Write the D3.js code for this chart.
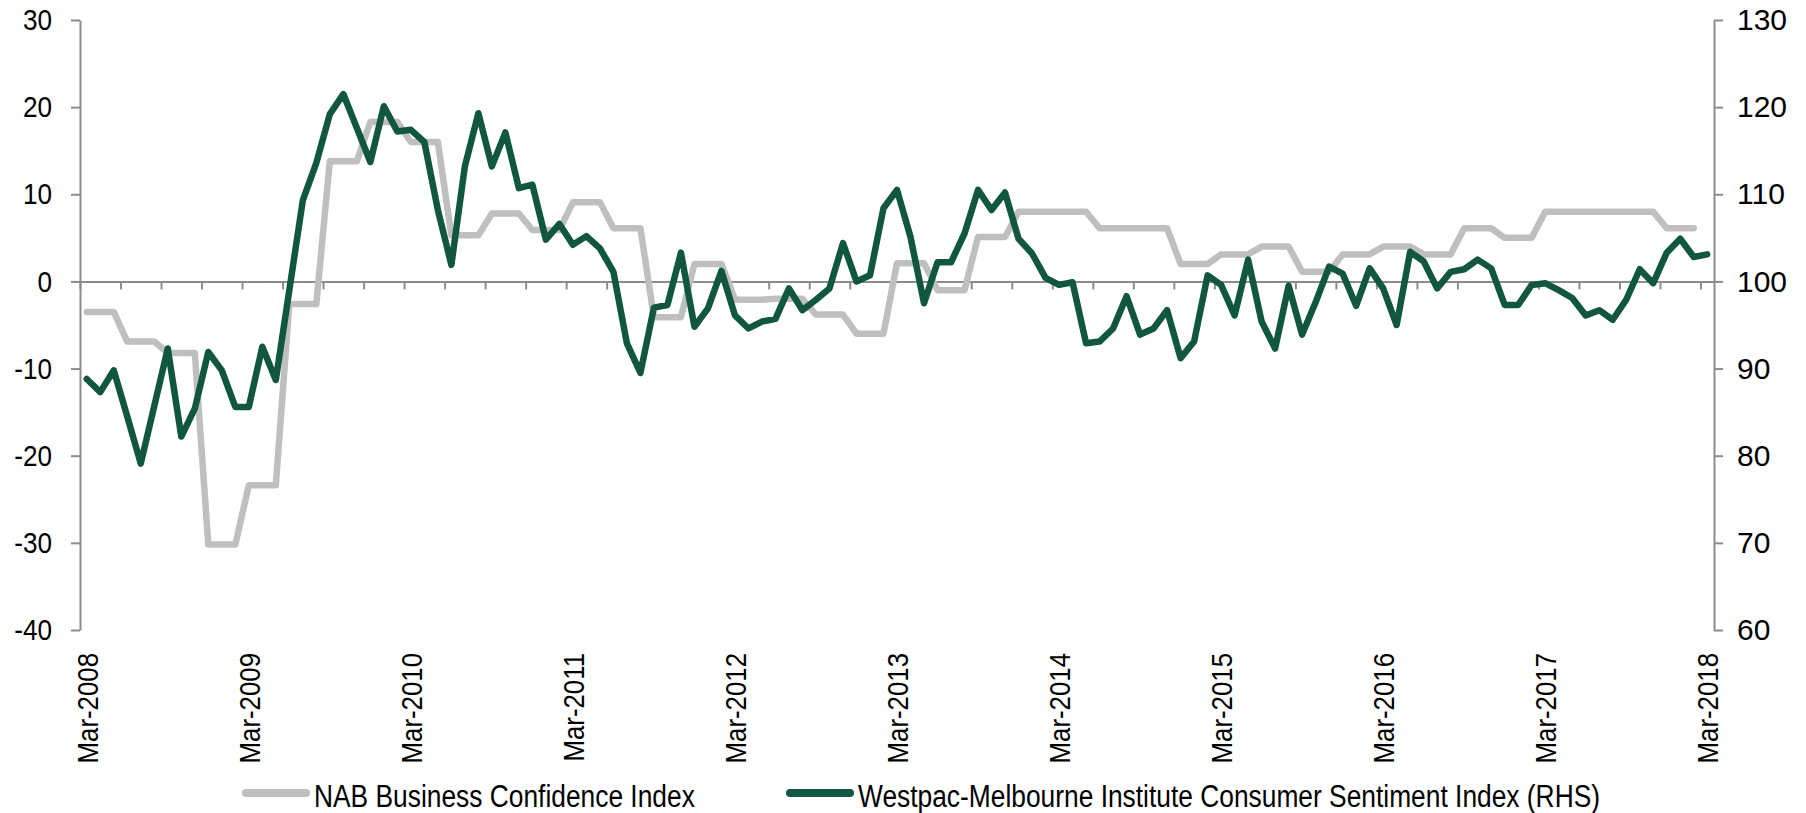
<!DOCTYPE html>
<html>
<head>
<meta charset="utf-8">
<script src="https://cdn.jsdelivr.net/npm/d3@7"></script>
<style>
body { margin: 0; background: #fff; }
text { font-family: "Liberation Sans", Arial, sans-serif; }
</style>
</head>
<body>
<svg id="chart" width="1806" height="813"></svg>
<script>
// monthly, Mar-2008 onwards
var xTickLabels = ["Mar-2008", "Mar-2009", "Mar-2010", "Mar-2011", "Mar-2012", "Mar-2013",
                   "Mar-2014", "Mar-2015", "Mar-2016", "Mar-2017", "Mar-2018"];
var leftTicks = [-40, -30, -20, -10, 0, 10, 20, 30];
var rightTicks = [60, 70, 80, 90, 100, 110, 120, 130];

// NAB Business Confidence (quarterly survey, shown monthly)
var nab = [
  -3.5, -3.5, -3.5, -6.9, -6.9, -6.9, -8.2, -8.2, -8.2, -30.2,
  -30.2, -30.2, -23.4, -23.4, -23.4, -2.6, -2.6, -2.6, 13.8, 13.8,
  13.8, 18.3, 18.3, 18.3, 16.0, 16.0, 16.0, 5.3, 5.3, 5.3,
  7.8, 7.8, 7.8, 5.9, 5.9, 5.9, 9.1, 9.1, 9.1, 6.1,
  6.1, 6.1, -4.1, -4.1, -4.1, 2.0, 2.0, 2.0, -2.1, -2.1,
  -2.1, -2.0, -2.0, -2.0, -3.8, -3.8, -3.8, -6.0, -6.0, -6.0,
  2.1, 2.1, 2.1, -1.0, -1.0, -1.0, 5.1, 5.1, 5.1, 8.0,
  8.0, 8.0, 8.0, 8.0, 8.0, 6.1, 6.1, 6.1, 6.1, 6.1,
  6.1, 2.0, 2.0, 2.0, 3.1, 3.1, 3.1, 4.0, 4.0, 4.0,
  1.1, 1.1, 1.1, 3.1, 3.1, 3.1, 4.0, 4.0, 4.0, 3.1,
  3.1, 3.1, 6.1, 6.1, 6.1, 5.0, 5.0, 5.0, 8.0, 8.0,
  8.0, 8.0, 8.0, 8.0, 8.0, 8.0, 8.0, 6.1, 6.1, 6.1
];

// Westpac-Melbourne Institute Consumer Sentiment (RHS)
var westpac = [
  88.8, 87.3, 89.8, 84.5, 79.1, 85.7, 92.3, 82.2, 85.4, 91.9,
  89.8, 85.6, 85.6, 92.5, 88.7, 99.0, 109.3, 113.6, 119.2, 121.5,
  117.6, 113.7, 120.1, 117.2, 117.4, 116.0, 108.2, 101.9, 113.2, 119.3,
  113.2, 117.1, 110.7, 111.1, 104.8, 106.6, 104.2, 105.2, 103.8, 101.1,
  92.9, 89.5, 97.0, 97.3, 103.3, 94.8, 96.9, 101.2, 96.1, 94.6,
  95.4, 95.7, 99.2, 96.7, 97.9, 99.2, 104.4, 100.0, 100.7, 108.4,
  110.5, 105.1, 97.5, 102.2, 102.2, 105.5, 110.5, 108.2, 110.2, 104.9,
  103.2, 100.4, 99.6, 99.9, 92.9, 93.1, 94.6, 98.3, 93.9, 94.6,
  96.7, 91.2, 93.1, 100.7, 99.6, 96.1, 102.5, 95.4, 92.3, 99.5,
  93.9, 97.6, 101.7, 100.9, 97.2, 101.5, 99.2, 95.0, 103.4, 102.3,
  99.2, 101.1, 101.4, 102.5, 101.5, 97.3, 97.3, 99.6, 99.8, 99.0,
  98.1, 96.1, 96.7, 95.6, 97.9, 101.4, 99.8, 103.3, 104.9, 102.8,
  103.1
];

var greyCol = "#bfbfbf",
    greenCol = "#11573e",
    axisCol = "#8c8c8c";

var svg = d3.select("#chart");

var x = d3.scaleLinear().domain([0, 121]).range([80, 1714]);
var yL = d3.scaleLinear().domain([-40, 30]).range([630, 20]);
var yR = d3.scaleLinear().domain([60, 130]).range([630, 20]);

//narrow the text the way the original renders it
var squeeze = function(sel, k){
    sel.each(function(){
        var w = this.getComputedTextLength();
        d3.select(this).attr("textLength", w * k).attr("lengthAdjust", "spacingAndGlyphs");
    });
}

var styleAxis = function(g){
    g.selectAll("path, line").attr("stroke", axisCol).attr("stroke-width", 2);
    g.selectAll("text").attr("fill", "#000").style("font-size", "30px");
}

// plain hyphen for negatives, like the original
var plain = function(d){ return String(d); };

var gL = svg.append("g").attr("transform", "translate(80,0)")
    .call(d3.axisLeft(yL).tickValues(leftTicks).tickFormat(plain)
          .tickSize(9).tickPadding(19).tickSizeOuter(0));
styleAxis(gL);
squeeze(gL.selectAll("text"), 0.87);

var gR = svg.append("g").attr("transform", "translate(1714,0)")
    .call(d3.axisRight(yR).tickValues(rightTicks).tickFormat(plain)
          .tickSize(9).tickPadding(14).tickSizeOuter(0));
styleAxis(gR);

// zero line with quarterly ticks
var gX = svg.append("g").attr("transform", "translate(0," + yL(0) + ")")
    .call(d3.axisBottom(x).tickValues(d3.range(0, 121, 3)).tickSize(8).tickSizeOuter(0).tickFormat(""));
styleAxis(gX);

var labelPos = xTickLabels.map(function(d, i){ return i * 12 + 0.5; });
var gXL = svg.append("g").attr("transform", "translate(0,653)")
    .call(d3.axisBottom(x).tickValues(labelPos).tickSize(0)
          .tickFormat(function(d, i){ return xTickLabels[i]; }));
gXL.select(".domain").remove();
styleAxis(gXL);
gXL.selectAll("text")
    .attr("transform", "rotate(-90)")
    .attr("x", 0).attr("y", 0).attr("dy", "0.35em")
    .attr("text-anchor", "end");
squeeze(gXL.selectAll("text"), 0.86);

var lineL = d3.line().x(function(d, i){ return x(i + 0.5); }).y(function(d){ return yL(d); });
var lineR = d3.line().x(function(d, i){ return x(i + 0.5); }).y(function(d){ return yR(d); });

svg.append("path").datum(nab)
    .attr("d", lineL)
    .attr("fill", "none").attr("stroke", greyCol).attr("stroke-width", 6.5)
    .attr("stroke-linejoin", "round").attr("stroke-linecap", "round");

svg.append("path").datum(westpac)
    .attr("d", lineR)
    .attr("fill", "none").attr("stroke", greenCol).attr("stroke-width", 6.5)
    .attr("stroke-linejoin", "round").attr("stroke-linecap", "round");

// legend
var legend = [
    {name: "NAB Business Confidence Index", col: greyCol, x: 246},
    {name: "Westpac-Melbourne Institute Consumer Sentiment Index (RHS)", col: greenCol, x: 790}
];
var lg = svg.selectAll(".leg").data(legend).enter().append("g")
    .attr("class", "leg")
    .attr("transform", function(d){ return "translate(" + d.x + ",793)"; });
lg.append("line")
    .attr("x1", 0).attr("x2", 60).attr("y1", 0).attr("y2", 0)
    .attr("stroke", function(d){ return d.col; })
    .attr("stroke-width", 8).attr("stroke-linecap", "round");
var lt = lg.append("text")
    .attr("x", 68).attr("y", 14)
    .style("font-size", "31px").attr("fill", "#000")
    .text(function(d){ return d.name; });
squeeze(lt, 0.85);
</script>
</body>
</html>
